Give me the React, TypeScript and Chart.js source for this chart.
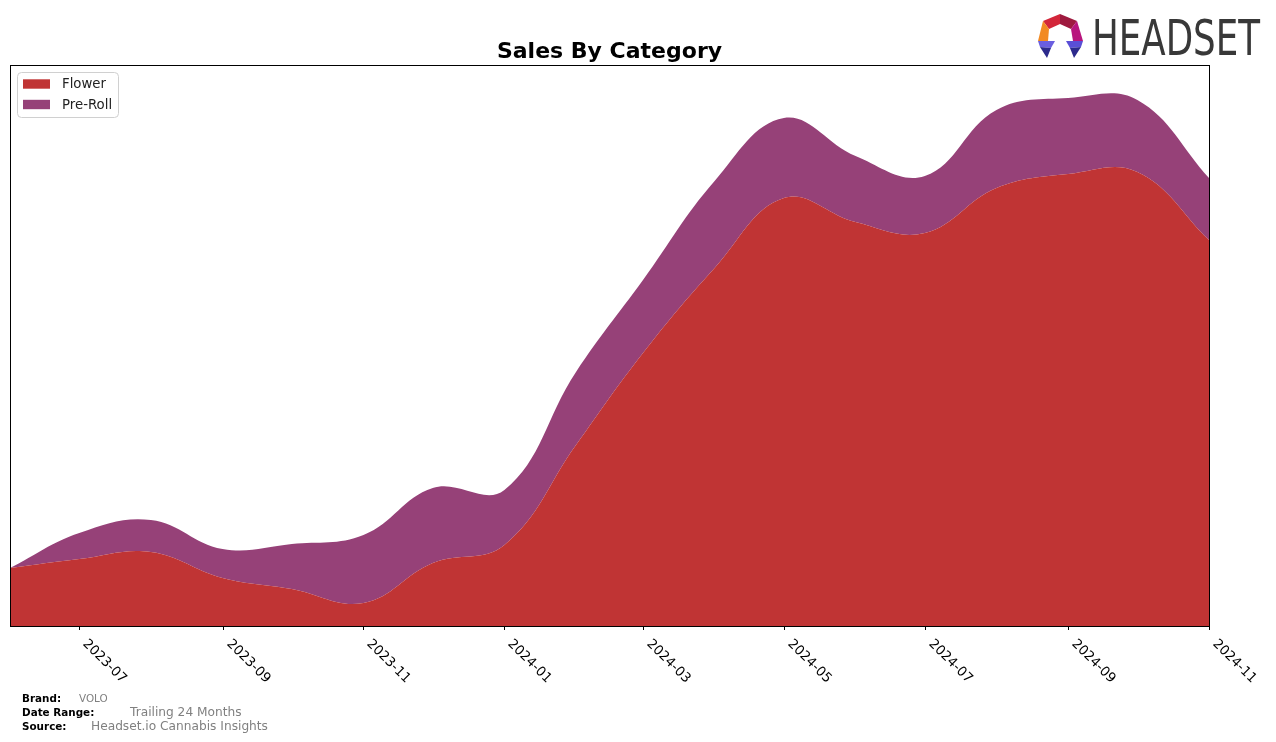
import React, { useEffect, useRef } from "react";
import { Chart, registerables } from "chart.js";

Chart.register(...registerables);

const MONTHS = [
  "2023-06", "2023-07", "2023-08", "2023-09", "2023-10", "2023-11",
  "2023-12", "2024-01", "2024-02", "2024-03", "2024-04", "2024-05",
  "2024-06", "2024-07", "2024-08", "2024-09", "2024-10", "2024-11",
];
const FLOWER = [58, 67, 74, 48, 37, 23, 63, 81, 181, 273, 358, 428, 404, 393, 438, 452, 454, 386];
const PRE_ROLL = [0, 26, 32, 29, 45, 68, 75, 55, 73, 73, 87, 80, 66, 57, 78, 76, 72, 62];
const TICK_LABELS = ["2023-07", "2023-09", "2023-11", "2024-01", "2024-03", "2024-05", "2024-07", "2024-09", "2024-11"];
const SERIES_NAMES = ["Flower", "Pre-Roll"];
const SERIES_COLORS = ["#c03434", "#964178"];
const Y_MAX = 561;

const dayOffset = (ym: string) => {
  const [y, m] = ym.split("-").map(Number);
  const [y0, m0] = MONTHS[0].split("-").map(Number);
  return (Date.UTC(y, m - 1, 1) - Date.UTC(y0, m0 - 1, 1)) / 86400000;
};

const FONT = '"DejaVu Sans", sans-serif';

const decorPlugin = {
  id: "decor",
  beforeDraw(chart: any) {
    const ctx = chart.ctx;
    ctx.save();
    ctx.fillStyle = "#ffffff";
    ctx.fillRect(0, 0, chart.width, chart.height);
    ctx.restore();
  },
  afterDraw(chart: any) {
    const ctx = chart.ctx;
    const area = chart.chartArea;
    const xs = chart.scales.x;
    ctx.save();

    // frame
    ctx.strokeStyle = "#000";
    ctx.lineWidth = 1;
    ctx.strokeRect(Math.round(area.left) + 0.5, Math.round(area.top) + 0.5, Math.round(area.right - area.left), Math.round(area.bottom - area.top));

    // ticks + rotated labels
    ctx.fillStyle = "#000";
    ctx.font = `13.3px ${FONT}`;
    ctx.textAlign = "left";
    ctx.textBaseline = "top";
    TICK_LABELS.forEach((lab) => {
      const x = Math.round(xs.getPixelForValue(dayOffset(lab))) + 0.5;
      ctx.beginPath();
      ctx.moveTo(x, area.bottom);
      ctx.lineTo(x, area.bottom + 4);
      ctx.stroke();
      ctx.save();
      ctx.translate(x + 10, area.bottom + 11);
      ctx.rotate(Math.PI / 4);
      ctx.fillText(lab, 0, 0);
      ctx.restore();
    });

    // title
    ctx.font = `bold 22px ${FONT}`;
    ctx.textAlign = "center";
    ctx.textBaseline = "alphabetic";
    ctx.fillText("Sales By Category", (area.left + area.right) / 2, 58);

    // legend
    const lx = 17.5, ly = 72.5, lw = 101, lh = 45;
    ctx.beginPath();
    ctx.roundRect(lx, ly, lw, lh, 4);
    ctx.fillStyle = "rgba(255,255,255,0.8)";
    ctx.fill();
    ctx.strokeStyle = "#d0d0d0";
    ctx.stroke();
    ctx.font = `13.3px ${FONT}`;
    ctx.textAlign = "left";
    ctx.textBaseline = "middle";
    SERIES_NAMES.forEach((name, i) => {
      const cy = 84 + i * 20.5;
      ctx.fillStyle = SERIES_COLORS[i];
      ctx.fillRect(23, cy - 4.7, 27, 9.4);
      ctx.fillStyle = "#222";
      ctx.fillText(name, 62, cy + 1);
    });

    // footer
    const rows: [string, string, number, number, number][] = [
      ["Brand:", "VOLO", 79, 699, 10.4],
      ["Date Range:", "Trailing 24 Months", 130, 713, 12.2],
      ["Source:", "Headset.io Cannabis Insights", 91, 727, 12.2],
    ];
    rows.forEach(([k, v, vx, y, fs]) => {
      ctx.fillStyle = "#000";
      ctx.font = `bold 10.4px ${FONT}`;
      ctx.fillText(k, 22, y);
      ctx.fillStyle = "#808080";
      ctx.font = `${fs}px ${FONT}`;
      ctx.fillText(v, vx, y);
    });

    // logo icon
    const poly = (pts: number[][], color: string) => {
      ctx.beginPath();
      ctx.moveTo(pts[0][0], pts[0][1]);
      for (let i = 1; i < pts.length; i++) ctx.lineTo(pts[i][0], pts[i][1]);
      ctx.closePath();
      ctx.fillStyle = color;
      ctx.fill();
    };
    poly([[1060, 14], [1043, 21], [1049, 29], [1060, 24]], "#d3263a");
    poly([[1060, 14], [1077, 21], [1071, 29], [1060, 24]], "#9e1a3f");
    poly([[1077, 21], [1083, 41], [1073, 41], [1071, 29]], "#b8157d");
    poly([[1043, 21], [1038, 41], [1048, 41], [1049, 29]], "#f28a22");
    poly([[1038, 41], [1055, 41], [1051, 48], [1040, 47]], "#6a5ee0");
    poly([[1040, 47], [1051, 48], [1047, 58]], "#2c2a8c");
    poly([[1066, 41], [1083, 41], [1081, 47], [1070, 48]], "#5a4fd6");
    poly([[1070, 48], [1081, 47], [1074, 58]], "#2c2a8c");

    // logo text
    ctx.save();
    ctx.font = `49px ${FONT}`;
    ctx.textAlign = "left";
    ctx.textBaseline = "alphabetic";
    const w = ctx.measureText("HEADSET").width;
    ctx.translate(1092, 55);
    ctx.scale(168 / w, 1);
    ctx.fillStyle = "#383838";
    ctx.fillText("HEADSET", 0, 0);
    ctx.restore();

    ctx.restore();
  },
};

export default function App() {
  const ref = useRef<HTMLCanvasElement | null>(null);
  useEffect(() => {
    if (!ref.current) return;
    const xs = MONTHS.map(dayOffset);
    const chart = new Chart(ref.current, {
      type: "line",
      data: {
        datasets: [
          {
            label: SERIES_NAMES[0],
            data: xs.map((x, i) => ({ x, y: FLOWER[i] })),
            backgroundColor: SERIES_COLORS[0],
            borderColor: SERIES_COLORS[0],
            borderWidth: 0,
            fill: "origin",
            pointRadius: 0,
            tension: 0.4,
          },
          {
            label: SERIES_NAMES[1],
            data: xs.map((x, i) => ({ x, y: PRE_ROLL[i] })),
            backgroundColor: SERIES_COLORS[1],
            borderColor: "rgba(200,120,170,0.6)",
            borderWidth: 0,
            fill: "-1",
            pointRadius: 0,
            tension: 0.4,
          },
        ],
      },
      options: {
        animation: false,
        responsive: false,
        devicePixelRatio: 1,
        layout: { padding: { left: 10, right: 67, top: 65, bottom: 116 } },
        scales: {
          x: { type: "linear", display: false, min: 0, max: dayOffset(MONTHS[MONTHS.length - 1]) },
          y: { display: false, stacked: true, min: 0, max: Y_MAX },
        },
        plugins: { legend: { display: false }, title: { display: false }, tooltip: { enabled: false } },
      },
      plugins: [decorPlugin],
    });
    return () => chart.destroy();
  }, []);
  return (
    <div style={{ position: "absolute", left: 0, top: 0, width: 1276, height: 742 }}>
      <canvas ref={ref} width={1276} height={742} style={{ width: 1276, height: 742 }} />
    </div>
  );
}
